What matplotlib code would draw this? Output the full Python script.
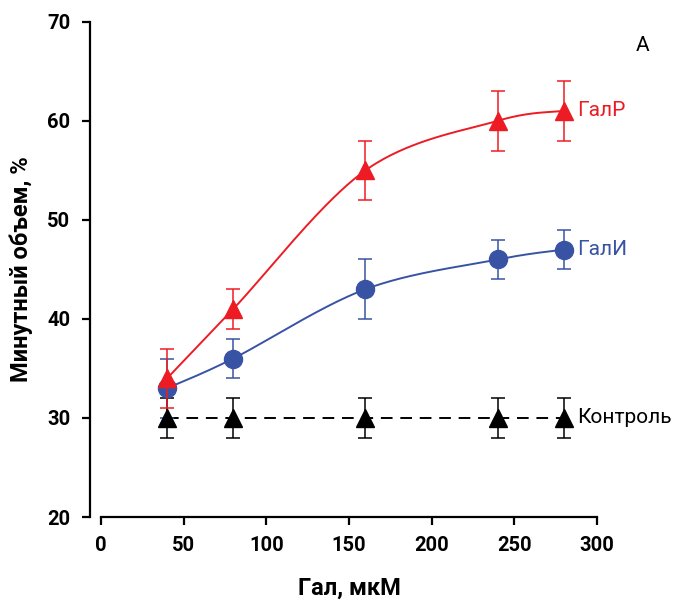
import matplotlib
matplotlib.use("Agg")
import matplotlib.pyplot as plt
import numpy as np

# data
conc = [40, 80, 160, 240, 280]
galr = [34, 41, 55, 60, 61]
galr_err = [3, 2, 3, 3, 3]
gali = [33, 36, 43, 46, 47]
gali_err = [3, 2, 3, 2, 2]
control = [30, 30, 30, 30, 30]
control_err = [2, 2, 2, 2, 2]

RED = '#ED1C24'
BLUE = '#3953A4'

plt.rcParams['font.family'] = ['Roboto', 'DejaVu Sans']


def smooth_line(x, y, sx=300.0, sy=50.0, n=60):
    # spreadsheet-style smoothed line: cubic Bezier segments through the points
    p = np.column_stack([np.asarray(x, float) / sx, np.asarray(y, float) / sy])
    p = np.vstack([p[0], p, p[-1]])
    t = np.linspace(0, 1, n)[:, None]
    segs = []
    for i in range(1, len(p) - 2):
        p0, p1, p2, p3 = p[i - 1], p[i], p[i + 1], p[i + 2]
        c1 = p1 + (p2 - p0) / 6
        c2 = p2 - (p3 - p1) / 6
        b = ((1 - t) ** 3) * p1 + 3 * ((1 - t) ** 2) * t * c1 + 3 * (1 - t) * t ** 2 * c2 + t ** 3 * p2
        segs.append(b)
    b = np.vstack(segs)
    return b[:, 0] * sx, b[:, 1] * sy


fig = plt.figure(figsize=(6.73, 6.04), dpi=100)
ax = fig.add_axes([0.150, 0.144, 0.737, 0.820])

rx, ry = smooth_line(conc, galr)
bx, by = smooth_line(conc, gali)
ax.plot(rx, ry, color=RED, lw=1.4, zorder=2)
ax.plot(bx, by, color=BLUE, lw=1.4, zorder=2)
ax.plot(conc, control, color='black', lw=1.4, ls=(0, (6, 4)), zorder=1)

ax.errorbar(conc, gali, yerr=gali_err, fmt='o', color=BLUE, ms=13,
            capsize=5, elinewidth=1.1, capthick=1.1, zorder=3)
ax.errorbar(conc, galr, yerr=galr_err, fmt='^', color=RED, ms=13,
            capsize=5, elinewidth=1.1, capthick=1.1, zorder=4)
ax.errorbar(conc, control, yerr=control_err, fmt='^', color='black', ms=13,
            capsize=5, elinewidth=1.1, capthick=1.1, zorder=3)

ax.text(288, galr[-1], 'ГалР', color=RED, fontsize=15, va='center', ha='left')
ax.text(288, gali[-1], 'ГалИ', color=BLUE, fontsize=15, va='center', ha='left')
ax.text(288, control[-1], 'Контроль', color='black', fontsize=15, va='center', ha='left')
fig.text(0.945, 0.925, 'А', fontsize=15, ha='left', va='center')

ax.set_xlim(0, 300)
ax.set_ylim(20, 70)
ax.set_xticks(np.arange(0, 301, 50))
ax.set_yticks(np.arange(20, 71, 10))
ax.spines['top'].set_visible(False)
ax.spines['right'].set_visible(False)
ax.spines['left'].set_position(('outward', 8))
for s in ('left', 'bottom'):
    ax.spines[s].set_linewidth(1.6)
ax.tick_params(direction='out', length=6, width=1.6, labelsize=14.5, pad=8)
for lab in ax.get_xticklabels() + ax.get_yticklabels():
    lab.set_fontweight('bold')

ax.set_xlabel('Гал, мкМ', fontsize=17, fontweight='bold', labelpad=15)
ax.set_ylabel('Минутный объем, %', fontsize=17, fontweight='bold', labelpad=10)

fig.savefig('out.png', dpi=100)
